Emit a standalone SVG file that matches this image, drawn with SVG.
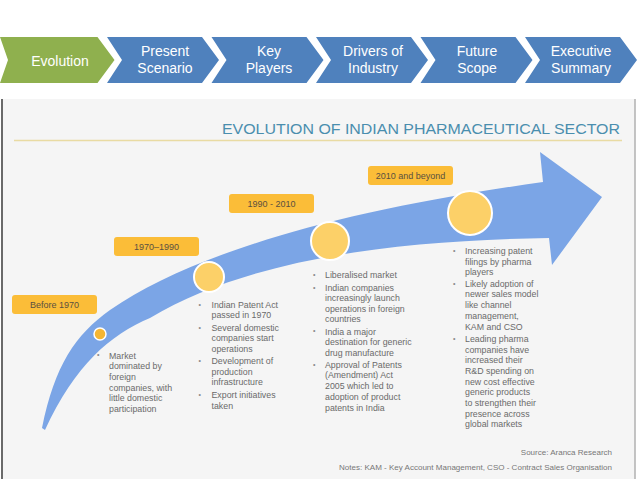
<svg xmlns="http://www.w3.org/2000/svg" width="638" height="479" viewBox="0 0 638 479">
<style>
.chev-b{fill:#4f81bd}
.chev-g{fill:#8fb04e}
.ct{font-family:"Liberation Sans",Arial,sans-serif;font-size:14px;fill:#ffffff;text-anchor:middle}
.lbl{fill:#fbbd38}
.lt{font-family:"Liberation Sans",Arial,sans-serif;font-size:9px;fill:#5a5040;text-anchor:middle}
.bt{font-family:"Liberation Sans",Arial,sans-serif;font-size:8.8px;fill:#6a6a6a}
.bu{font-family:"Liberation Sans",Arial,sans-serif;font-size:7px;fill:#8a8a8a}
.ft{font-family:"Liberation Sans",Arial,sans-serif;font-size:8px;fill:#777777;text-anchor:end}
.dot{fill:#fcd068;stroke:#ffffff;stroke-width:2}
</style>
<rect x="0" y="0" width="638" height="479" fill="#ffffff"/>
<g id="nav">
<g id="nav-evolution"><polygon class="chev-g" points="0,37 97.5,37 114.5,60 97.5,83 0,83 8,60"/><text class="ct" x="60" y="65.5">Evolution</text></g>
<g id="nav-present"><polygon class="chev-b" points="107,37 202,37 219,60 202,83 107,83 122,60"/><text class="ct" x="165" y="56">Present</text><text class="ct" x="165" y="73">Scenario</text></g>
<g id="nav-key"><polygon class="chev-b" points="211.5,37 306.5,37 323.5,60 306.5,83 211.5,83 226.5,60"/><text class="ct" x="269" y="56">Key</text><text class="ct" x="269" y="73">Players</text></g>
<g id="nav-drivers"><polygon class="chev-b" points="316,37 411,37 428,60 411,83 316,83 331,60"/><text class="ct" x="373" y="56">Drivers of</text><text class="ct" x="373" y="73">Industry</text></g>
<g id="nav-future"><polygon class="chev-b" points="420.5,37 515.5,37 532.5,60 515.5,83 420.5,83 435.5,60"/><text class="ct" x="477" y="56">Future</text><text class="ct" x="477" y="73">Scope</text></g>
<g id="nav-exec"><polygon class="chev-b" points="525,37 620,37 637,60 620,83 525,83 540,60"/><text class="ct" x="581" y="56">Executive</text><text class="ct" x="581" y="73">Summary</text></g>
</g>
<g id="panel">
<rect x="2" y="99" width="633" height="380" fill="#f5f5f5"/>
<line x1="2" y1="99" x2="2" y2="479" stroke="#6a6a6a" stroke-width="2"/>
<line x1="635" y1="99" x2="635" y2="479" stroke="#b0b0b0" stroke-width="1.5"/>
<text x="620" y="134" font-family="'Liberation Sans',Arial,sans-serif" font-size="15.5" fill="#4a8eae" text-anchor="end" textLength="398" lengthAdjust="spacingAndGlyphs">EVOLUTION OF INDIAN PHARMACEUTICAL SECTOR</text>
<line x1="14" y1="140.5" x2="622" y2="140.5" stroke="#e9dba3" stroke-width="1.5"/>
</g>
<g id="connectors">
<path id="arrow" fill="#7ba5e6" d="M42 428 C55 365 75 335 110 310 C190 255 330 212 543 182 L540 152 L602 197 L552 265 L549 238 C400 240 250 258 150 318 C110 335 75 365 45 430 Z"/>
</g>
<g id="stage-before1970">
<circle cx="100" cy="334" r="6" fill="#f5b634" stroke="#ffffff" stroke-width="1.5"/>
<rect class="lbl" x="12" y="295" width="85" height="19" rx="3"/>
<text class="lt" x="54.5" y="307.5">Before 1970</text>
<text class="bu" x="97" y="357">•</text>
<text class="bt"><tspan x="109" y="358.5">Market</tspan><tspan x="109" y="369.2">dominated by</tspan><tspan x="109" y="380">foreign</tspan><tspan x="109" y="390.7">companies, with</tspan><tspan x="109" y="401.3">little domestic</tspan><tspan x="109" y="412">participation</tspan></text>
</g>
<g id="stage-1970">
<circle class="dot" cx="209" cy="277" r="15"/>
<rect class="lbl" x="114" y="237" width="85" height="19" rx="3"/>
<text class="lt" x="156.5" y="249.5">1970–1990</text>
<text class="bu" x="198.5" y="306.5">•</text><text class="bu" x="198.5" y="329.5">•</text><text class="bu" x="198.5" y="362.5">•</text><text class="bu" x="198.5" y="396.5">•</text>
<text class="bt"><tspan x="211.5" y="307.5">Indian Patent Act</tspan><tspan x="211.5" y="318.2">passed in 1970</tspan><tspan x="211.5" y="330.5">Several domestic</tspan><tspan x="211.5" y="341.3">companies start</tspan><tspan x="211.5" y="352">operations</tspan><tspan x="211.5" y="363.7">Development of</tspan><tspan x="211.5" y="374.5">production</tspan><tspan x="211.5" y="385.2">infrastructure</tspan><tspan x="211.5" y="397.7">Export initiatives</tspan><tspan x="211.5" y="408.6">taken</tspan></text>
</g>
<g id="stage-1990">
<circle class="dot" cx="330" cy="241" r="19"/>
<rect class="lbl" x="229" y="194" width="85" height="19" rx="3"/>
<text class="lt" x="271.5" y="206.5">1990 - 2010</text>
<text class="bu" x="313" y="276.5">•</text><text class="bu" x="313" y="289.5">•</text><text class="bu" x="313" y="333">•</text><text class="bu" x="313" y="366.5">•</text>
<text class="bt"><tspan x="325" y="277.5">Liberalised market</tspan><tspan x="325" y="290.6">Indian companies</tspan><tspan x="325" y="301.2">increasingly launch</tspan><tspan x="325" y="311.8">operations in foreign</tspan><tspan x="325" y="322.4">countries</tspan><tspan x="325" y="334.5">India a major</tspan><tspan x="325" y="345.1">destination for generic</tspan><tspan x="325" y="355.7">drug manufacture</tspan><tspan x="325" y="367.7">Approval of Patents</tspan><tspan x="325" y="378.4">(Amendment) Act</tspan><tspan x="325" y="389.1">2005 which led to</tspan><tspan x="325" y="400">adoption of product</tspan><tspan x="325" y="410.7">patents in India</tspan></text>
</g>
<g id="stage-2010">
<circle class="dot" cx="470" cy="213" r="22"/>
<rect class="lbl" x="368" y="166" width="85" height="19" rx="3"/>
<text class="lt" x="410.5" y="178.5">2010 and beyond</text>
<text class="bu" x="453" y="252.5">•</text><text class="bu" x="453" y="285.5">•</text><text class="bu" x="453" y="341">•</text>
<text class="bt"><tspan x="465" y="253.5">Increasing patent</tspan><tspan x="465" y="264.6">filings by pharma</tspan><tspan x="465" y="275.3">players</tspan><tspan x="465" y="286.6">Likely adoption of</tspan><tspan x="465" y="297.3">newer sales model</tspan><tspan x="465" y="308.2">like channel</tspan><tspan x="465" y="319.2">management,</tspan><tspan x="465" y="330">KAM and CSO</tspan><tspan x="465" y="342.3">Leading pharma</tspan><tspan x="465" y="352.6">companies have</tspan><tspan x="465" y="363.3">increased their</tspan><tspan x="465" y="374">R&amp;D spending on</tspan><tspan x="465" y="384.6">new cost effective</tspan><tspan x="465" y="395.3">generic products</tspan><tspan x="465" y="406">to strengthen their</tspan><tspan x="465" y="416.6">presence across</tspan><tspan x="465" y="427.3">global markets</tspan></text>
</g>
<g id="footer">
<text class="ft" x="612" y="455">Source: Aranca Research</text>
<text class="ft" x="612" y="470" textLength="273" lengthAdjust="spacingAndGlyphs">Notes: KAM - Key Account Management, CSO - Contract Sales Organisation</text>
</g>
</svg>
